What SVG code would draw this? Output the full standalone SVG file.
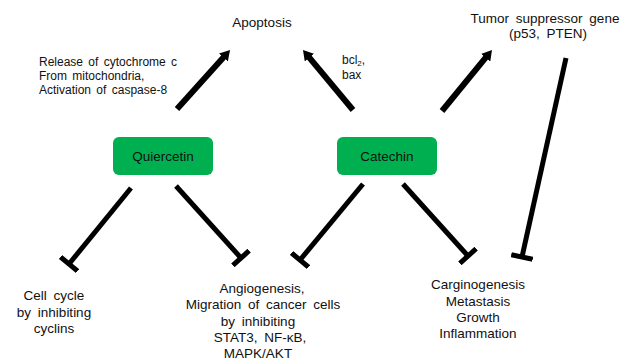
<svg xmlns="http://www.w3.org/2000/svg" width="621" height="360" viewBox="0 0 621 360">
<style>
text{font-family:"Liberation Sans",Arial,sans-serif;fill:#111;}
.t13{font-size:13.5px;word-spacing:3px;}
.t12{font-size:12px;word-spacing:2px;}
.c{text-anchor:middle;}
.box{fill:#00B050;}
.act{stroke:#000;stroke-width:6;fill:none;}
.inh{stroke:#000;stroke-width:5;fill:none;}
</style>
<defs>
<marker id="arrow" markerUnits="userSpaceOnUse" viewBox="0 -6 10 12" markerWidth="10" markerHeight="12" refX="2" refY="0" orient="auto">
<path d="M0,-6 L10,0 L0,6 z" fill="#000"/>
</marker>
<marker id="bar" markerUnits="userSpaceOnUse" viewBox="-3 -11 6 22" markerWidth="6" markerHeight="22" refX="0" refY="0" orient="auto">
<path d="M0,-11 L0,11" stroke="#000" stroke-width="5"/>
</marker>
</defs>
<rect width="621" height="360" fill="#fff"/>
<g id="connectors">
<line class="act" x1="177" y1="109" x2="224.7" y2="56" marker-end="url(#arrow)"/>
<line class="act" x1="353" y1="110" x2="308.1" y2="56.1" marker-end="url(#arrow)"/>
<line class="act" x1="442" y1="111" x2="486.9" y2="56.2" marker-end="url(#arrow)"/>
<line class="inh" x1="131" y1="188" x2="69" y2="264" marker-end="url(#bar)"/>
<line class="inh" x1="176" y1="186" x2="241" y2="258" marker-end="url(#bar)"/>
<line class="inh" x1="363" y1="184" x2="300" y2="260" marker-end="url(#bar)"/>
<line class="inh" x1="403" y1="184" x2="468" y2="256" marker-end="url(#bar)"/>
<line class="inh" x1="566" y1="58" x2="522" y2="257" marker-end="url(#bar)"/>
</g>
<g id="apoptosis"><text class="t13 c" x="262" y="27">Apoptosis</text></g>
<g id="tumor-suppressor">
<text class="t13 c" x="545" y="23">Tumor suppressor gene</text>
<text class="t13 c" x="548" y="38">(p53, PTEN)</text>
</g>
<g id="label-cytochrome">
<text class="t12" x="39" y="66">Release of cytochrome c</text>
<text class="t12" x="39" y="80">From mitochondria,</text>
<text class="t12" x="39" y="94">Activation of caspase-8</text>
</g>
<g id="label-bcl">
<text class="t12" x="342" y="64">bcl<tspan font-size="8" dy="2">2</tspan><tspan dy="-2">,</tspan></text>
<text class="t12" x="342" y="79">bax</text>
</g>
<g id="quiercetin">
<rect class="box" x="113" y="137" width="100" height="38" rx="6"/>
<text class="t13 c" x="163" y="161">Quiercetin</text>
</g>
<g id="catechin">
<rect class="box" x="337" y="137" width="100" height="38" rx="6"/>
<text class="t13 c" x="387" y="161">Catechin</text>
</g>
<g id="cell-cycle">
<text class="t13 c" x="54" y="300">Cell cycle</text>
<text class="t13 c" x="54" y="317">by inhibiting</text>
<text class="t13 c" x="54" y="333">cyclins</text>
</g>
<g id="angiogenesis">
<text class="t13 c" x="262" y="293">Angiogenesis,</text>
<text class="t13 c" x="263" y="309">Migration of cancer cells</text>
<text class="t13 c" x="258" y="326">by inhibiting</text>
<text class="t13 c" x="260" y="342">STAT3, NF-κB,</text>
<text class="t13 c" x="258" y="358">MAPK/AKT</text>
</g>
<g id="carcinogenesis">
<text class="t13 c" x="478" y="289">Carginogenesis</text>
<text class="t13 c" x="478" y="306">Metastasis</text>
<text class="t13 c" x="478" y="322">Growth</text>
<text class="t13 c" x="478" y="338">Inflammation</text>
</g>
</svg>
